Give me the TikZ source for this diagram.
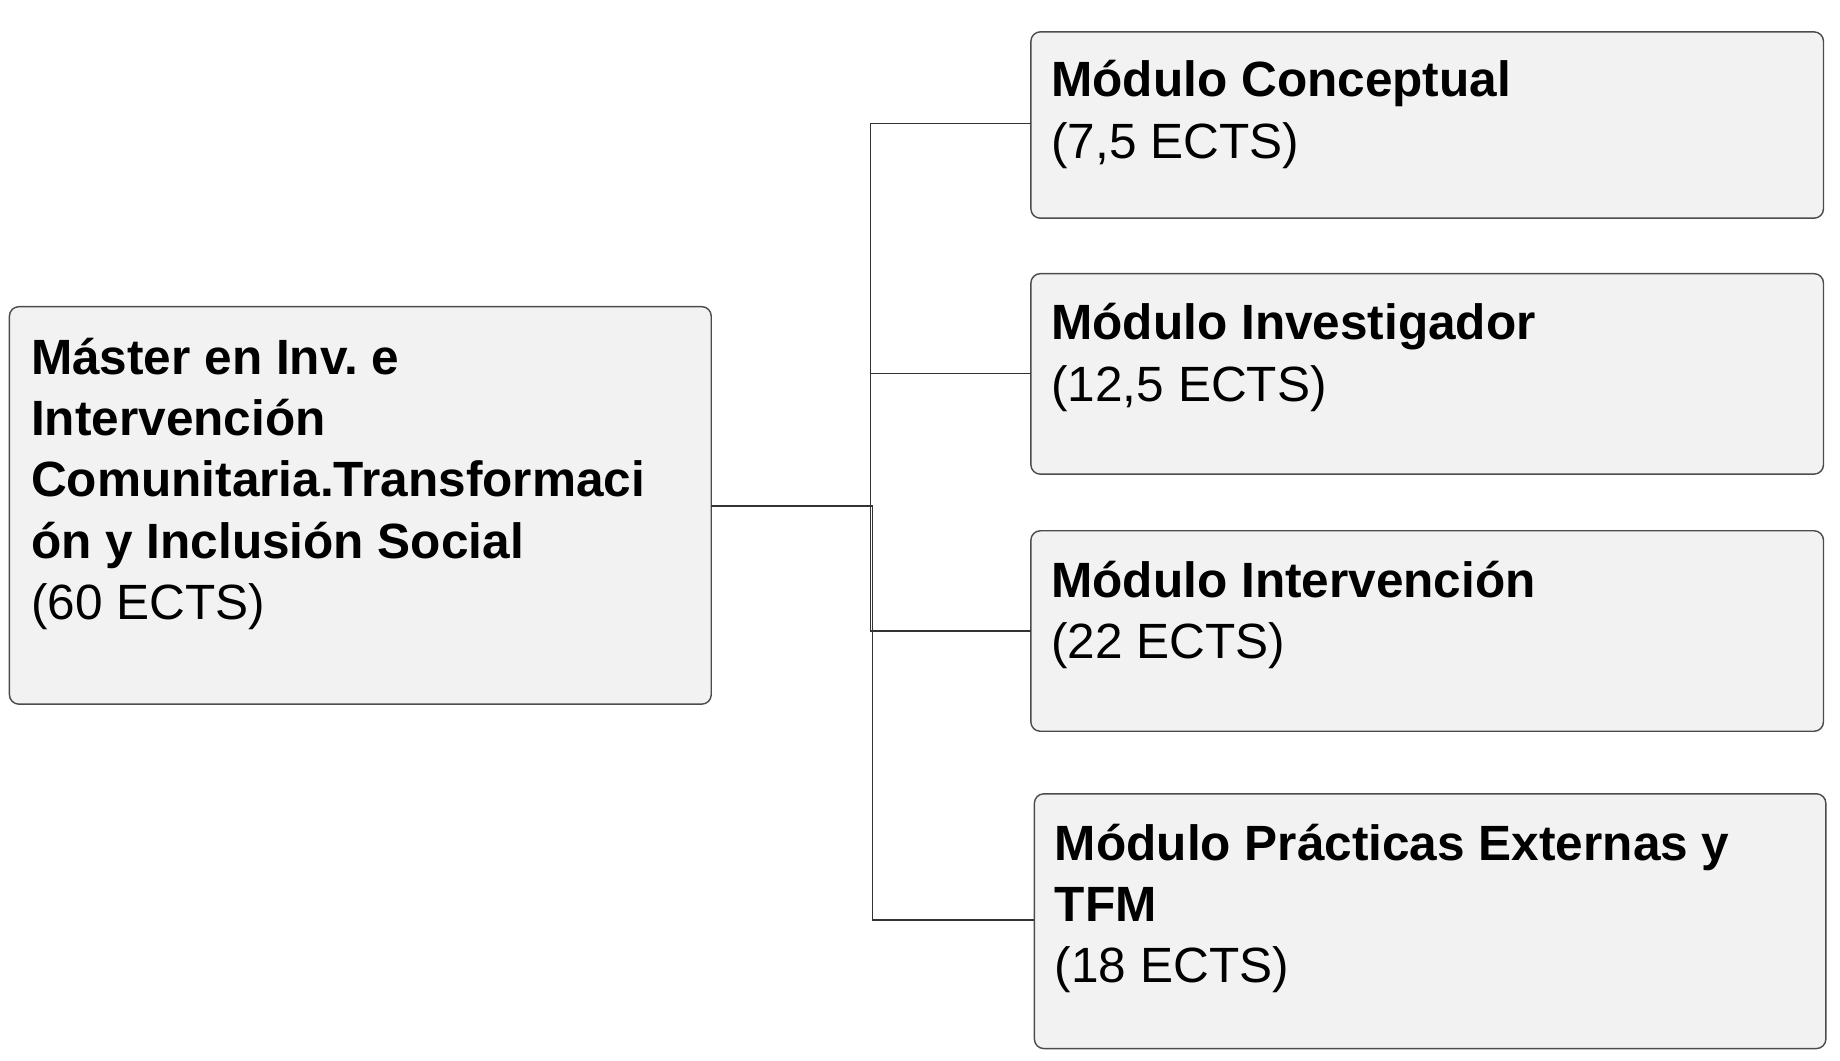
\documentclass[tikz,border=0pt]{standalone}
\usepackage{fontspec}
\setmainfont{Liberation Sans}
\begin{document}
\begin{tikzpicture}[x=0.5pt,y=-0.5pt,
  box/.style={draw=black!70,fill=black!5,rounded corners=4pt,line width=0.6pt},
  txt/.style={anchor=north west,inner sep=0pt,align=left,font=\fontsize{21}{26}\selectfont},
  link/.style={draw=black!80,line width=0.5pt}]
\useasboundingbox (0,0) rectangle (1560,899);
\draw[box] (8,260) rectangle (603,597);
\draw[box] (874,27) rectangle (1546,185);
\draw[box] (874,232) rectangle (1546,402);
\draw[box] (874,450) rectangle (1546,620);
\draw[box] (877,673) rectangle (1548,889);
\node[txt] (m) at (26,286) {\textbf{Máster en Inv.\ e}\\\textbf{Intervención}\\\textbf{Comunitaria.Transformaci}\\\textbf{ón y Inclusión Social}\\(60 ECTS)};
\node[txt] (a) at (891,51) {\textbf{Módulo Conceptual}\\(7,5 ECTS)};
\node[txt] (b) at (891,257) {\textbf{Módulo Investigador}\\(12,5 ECTS)};
\node[txt] (c) at (891,475) {\textbf{Módulo Intervención}\\(22 ECTS)};
\node[txt] (d) at (894,698) {\textbf{Módulo Prácticas Externas y}\\\textbf{TFM}\\(18 ECTS)};
\coordinate (s) at (603,429);
\draw[link] (s) -- (738,429) -- (738,105) -- (874,105);
\draw[link] (s) -- (738,429) -- (738,317) -- (874,317);
\draw[link] (s) -- (738,429) -- (738,535) -- (874,535);
\draw[link] (s) -- (740,429) -- (740,780) -- (877,780);
\end{tikzpicture}
\end{document}
